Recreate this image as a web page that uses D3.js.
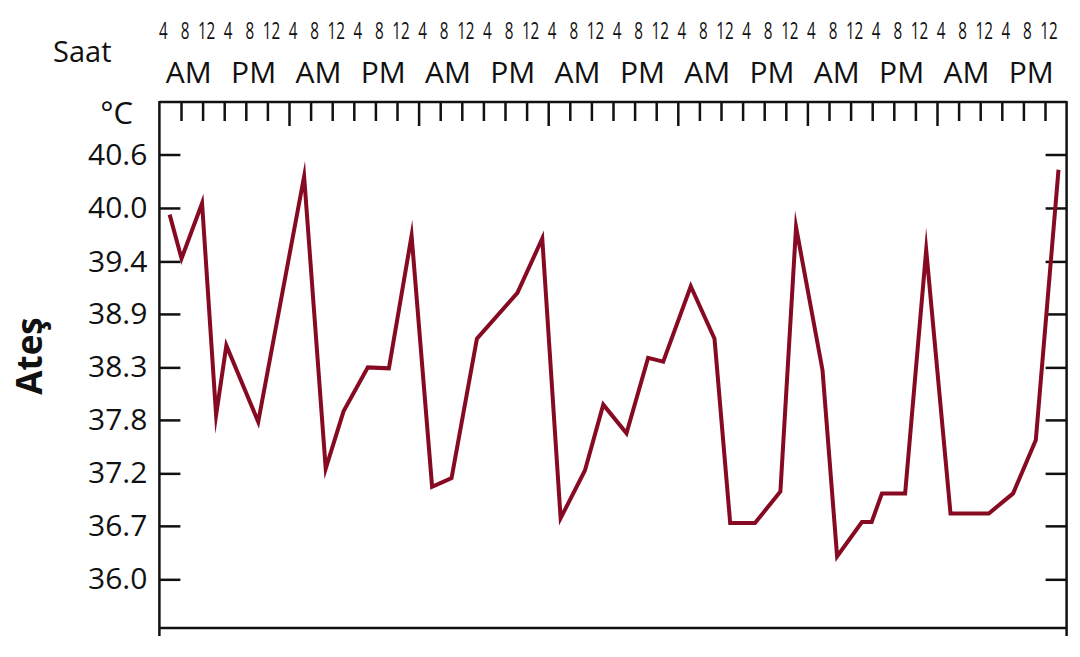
<!DOCTYPE html>
<html>
<head>
<meta charset="utf-8">
<script src="https://cdn.jsdelivr.net/npm/d3@7"></script>
<style>
body{margin:0;background:#fff;}
text{font-family:"Open Sans",sans-serif;fill:#111;}
.axis path,.axis line,.frame{stroke:#111;stroke-width:2.5;fill:none;}
</style>
</head>
<body>
<svg id="myGraph" width="1080" height="657"></svg>
<script>
// saat (ilk günün başından itibaren) ve ateş (°C)
var hours = [1.9, 4.1, 7.9, 10.5, 12.4, 18.3, 26.8, 30.8, 34.1, 38.6, 42.5, 46.7,
  50.5, 54.1, 58.8, 66.3, 70.9, 74.3, 78.8, 82.2, 86.5, 90.5, 93.3, 98.4,
  102.8, 105.7, 110.3, 115.0, 117.9, 122.8, 125.5, 130.1, 131.9, 133.8, 138.1, 142.0,
  146.5, 153.6, 158.1, 162.3, 166.5]
var temps = [39.93, 39.47, 40.05, 37.83, 38.56, 37.76, 40.33, 37.27, 37.87, 38.33, 38.32, 39.71,
  37.08, 37.17, 38.63, 39.11, 39.68, 36.75, 37.25, 37.94, 37.64, 38.43, 38.39, 39.18,
  38.63, 36.70, 36.70, 37.03, 39.80, 38.30, 36.35, 36.71, 36.71, 37.01, 37.01, 39.56,
  36.80, 36.80, 37.01, 37.57, 40.40]

var tempTicks = [40.56, 40.0, 39.44, 38.89, 38.33, 37.78, 37.22, 36.67, 36.11]
var tempLabels = ["40.6", "40.0", "39.4", "38.9", "38.3", "37.8", "37.2", "36.7", "36.0"]
var hourLabels = ["4", "8", "12", "4", "8", "12"]
var halfLabels = ["AM", "PM"]
var days = 7

var svg = d3.select("#myGraph")

var x = d3.scaleLinear().domain([0, days * 24]).range([159.4, 1066.6])
var y = d3.scaleLinear().domain([35.6, 41.11]).range([628, 102])

var x0 = x.range()[0], x1 = x.range()[1]
var yb = y.range()[0], yt = y.range()[1]

// sol eksen
svg.append("g")
  .attr("class", "axis")
  .attr("transform", "translate(" + x0 + ",0)")
  .call(d3.axisLeft(y).tickValues(tempTicks).tickSizeInner(-21).tickSizeOuter(0).tickPadding(12)
    .tickFormat(function(d, i){ return tempLabels[i]; }))
  .call(function(g){ g.select(".domain").remove(); })
  .selectAll("text")
  .attr("font-size", "30px")
  .attr("font-family", "Open Sans")
  .attr("fill", "#111")

// sağ eksen
svg.append("g")
  .attr("class", "axis")
  .attr("transform", "translate(" + x1 + ",0)")
  .call(d3.axisRight(y).tickValues(tempTicks).tickSizeInner(-21).tickSizeOuter(0).tickFormat(""))
  .call(function(g){ g.select(".domain").remove(); })

// üst eksen (4 saatlik)
var topTicks = d3.range(4, days * 24, 4)
svg.append("g")
  .attr("class", "axis")
  .attr("transform", "translate(0," + yt + ")")
  .call(d3.axisTop(x).tickValues(topTicks).tickSizeInner(-19).tickSizeOuter(0).tickFormat(""))
  .call(function(g){ g.select(".domain").remove(); })
  .selectAll(".tick line")
  .attr("y2", function(d){ return d % 24 == 0 ? 24 : 19; })

// çerçeve
svg.append("line").attr("class", "frame")
  .attr("x1", x0).attr("x2", x1).attr("y1", yt).attr("y2", yt)
svg.append("line").attr("class", "frame")
  .attr("x1", x0).attr("x2", x1).attr("y1", yb).attr("y2", yb)
svg.append("line").attr("class", "frame")
  .attr("x1", x0).attr("x2", x0).attr("y1", yt - 1).attr("y2", yb + 8)
svg.append("line").attr("class", "frame")
  .attr("x1", x1).attr("x2", x1).attr("y1", yt - 1).attr("y2", yb + 8)

// saat etiketleri
for(var d=0; d<days; d++){
  for(var i=0; i<hourLabels.length; i++){
    svg.append("text")
      .attr("transform", "translate(" + (x(d * 24 + i * 4) + 4) + ",39) scale(0.66,1)")
      .attr("text-anchor", "middle")
      .attr("font-size", "23px")
      .text(hourLabels[i])
  }
  for(var j=0; j<2; j++){
    svg.append("text")
      .attr("x", x(d * 24 + 6 + j * 12) - 3)
      .attr("y", 83)
      .attr("text-anchor", "middle")
      .attr("font-size", "30px")
      .text(halfLabels[j])
  }
}

svg.append("text")
  .attr("x", 53).attr("y", 62)
  .attr("font-size", "29px")
  .text("Saat")

svg.append("text")
  .attr("x", 133).attr("y", 124)
  .attr("text-anchor", "end")
  .attr("font-size", "31px")
  .text("°C")

svg.append("text")
  .attr("transform", "translate(42,356) rotate(-90)")
  .attr("text-anchor", "middle")
  .attr("font-size", "35px")
  .attr("font-weight", "bold")
  .text("Ateş")

// ateş çizgisi
var data = hours.map(function(h, i){ return {h: h, t: temps[i]}; })
var line = d3.line()
  .x(function(d){ return x(d.h); })
  .y(function(d){ return y(d.t); })

svg.append("path")
  .datum(data)
  .attr("d", line)
  .attr("fill", "none")
  .attr("stroke", "#870a23")
  .attr("stroke-width", 4)
  .attr("stroke-linejoin", "miter")
  .attr("stroke-miterlimit", 12)
</script>
</body>
</html>
